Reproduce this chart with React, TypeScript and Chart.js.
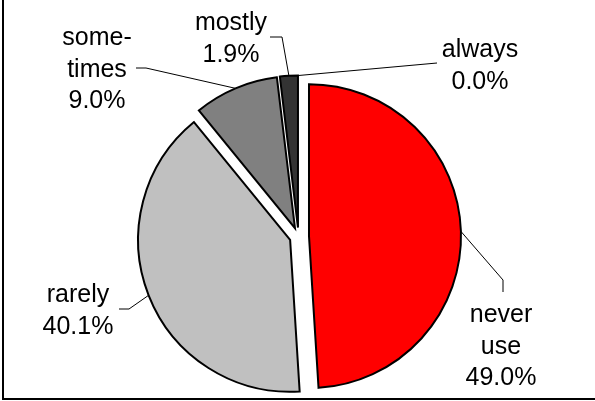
import React, { useEffect, useRef } from "react";
import { Chart, registerables } from "chart.js";

Chart.register(...registerables);

// ---- data ----
const categories = ["never use", "rarely", "sometimes", "mostly", "always"];
const labelLines = [["never", "use"], ["rarely"], ["some-", "times"], ["mostly"], ["always"]];
const shares = [49.0, 40.1, 9.0, 1.9, 0.0];

// ---- styles / layout ----
const sliceColors = ["#FF0000", "#C0C0C0", "#808080", "#333333", "#000000"];
const explode = [10.5, 9, 9, 9, 9];
const labelLayout: { cx: number; baseline: number; path: number[][] }[] = [
  { cx: 501, baseline: 322, path: [[503, 280], [503, 292]] },
  { cx: 78, baseline: 302, path: [[129, 309], [119, 309]] },
  { cx: 97, baseline: 45, path: [[146, 68], [136, 68]] },
  { cx: 231, baseline: 30, path: [[282, 37], [270, 37]] },
  { cx: 480, baseline: 57, path: [[437, 63]] },
];
const LINE_HEIGHT = 31.5;
const FONT = '25px "Liberation Sans", Arial, sans-serif';

const explodePlugin = {
  id: "explodeSlices",
  afterDatasetsUpdate(chart: any) {
    const meta = chart.getDatasetMeta(0);
    meta.data.forEach((el: any, i: number) => {
      const half = (el.startAngle + el.endAngle) / 2;
      el.x += Math.cos(half) * explode[i];
      el.y += Math.sin(half) * explode[i];
    });
  },
};

const labelPlugin = {
  id: "pieLabels",
  afterDatasetsDraw(chart: any) {
    const ctx = chart.ctx as CanvasRenderingContext2D;
    const meta = chart.getDatasetMeta(0);
    ctx.save();
    meta.data.forEach((el: any, i: number) => {
      const L = labelLayout[i];
      const half = (el.startAngle + el.endAngle) / 2;
      const r = el.outerRadius;
      const ax = el.x + Math.cos(half) * r;
      const ay = el.y + Math.sin(half) * r;
      ctx.beginPath();
      ctx.moveTo(ax, ay);
      L.path.forEach(([x, y]) => ctx.lineTo(x, y));
      ctx.strokeStyle = "#000";
      ctx.lineWidth = 1;
      ctx.stroke();
      const lines = [...labelLines[i], shares[i].toFixed(1) + "%"];
      ctx.font = FONT;
      ctx.fillStyle = "#000";
      ctx.textAlign = "center";
      ctx.textBaseline = "alphabetic";
      lines.forEach((t, k) => ctx.fillText(t, L.cx, L.baseline + k * LINE_HEIGHT));
    });
    ctx.restore();
  },
};

export default function App() {
  const ref = useRef<HTMLCanvasElement>(null);
  useEffect(() => {
    const chart = new Chart(ref.current!, {
      type: "doughnut",
      data: {
        labels: categories,
        datasets: [
          {
            data: shares,
            backgroundColor: sliceColors,
            borderColor: "#000",
            borderWidth: 2,
            borderJoinStyle: "miter",
            clip: false,
          } as any,
        ],
      },
      options: {
        responsive: false,
        animation: false,
        events: [],
        cutout: 0,
        radius: 152,
        layout: { padding: { left: 2, right: 0, top: 72, bottom: 0 } },
        plugins: { legend: { display: false }, tooltip: { enabled: false } },
      } as any,
      plugins: [explodePlugin, labelPlugin],
    });
    return () => chart.destroy();
  }, []);
  return (
    <div style={{ position: "fixed", left: 0, top: 0, width: 595, height: 401, background: "#fff" }}>
      <canvas ref={ref} width={595} height={401} style={{ position: "absolute", left: 0, top: 0 }} />
      <div
        style={{
          position: "absolute",
          left: 2,
          top: 0,
          width: 591,
          height: 398,
          borderLeft: "2px solid #000",
          borderBottom: "2px solid #000",
          pointerEvents: "none",
        }}
      />
    </div>
  );
}
